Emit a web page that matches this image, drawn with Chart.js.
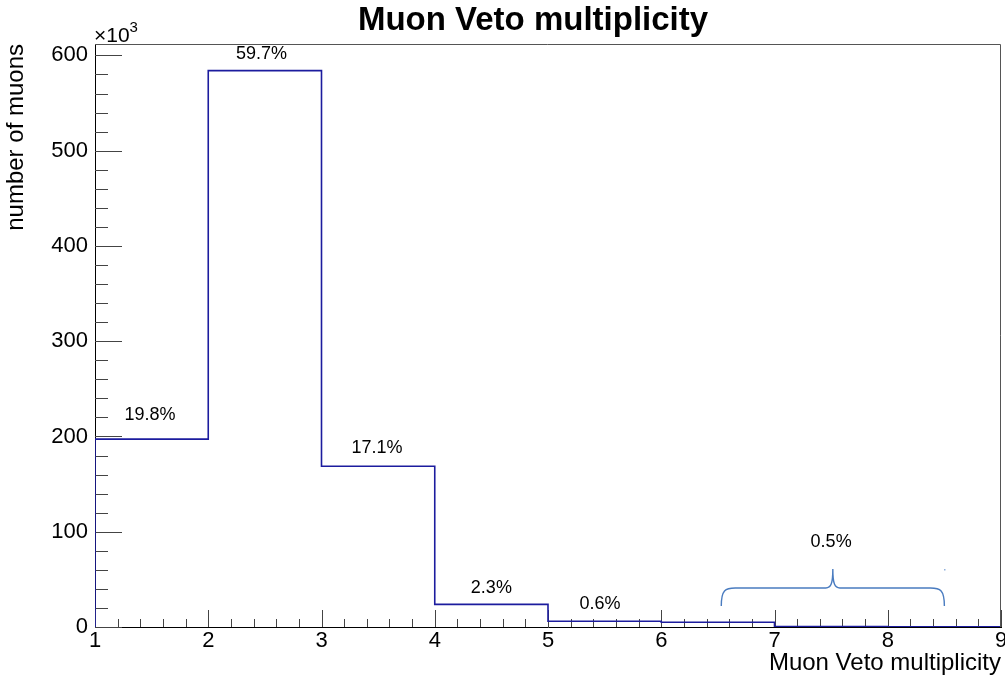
<!DOCTYPE html>
<html>
<head>
<meta charset="utf-8">
<title>Muon Veto multiplicity</title>
<script src="https://cdn.jsdelivr.net/npm/chart.js@4.4.1/dist/chart.umd.min.js"></script>
<style>
  html, body { margin: 0; padding: 0; background: #fff; }
  canvas { display: block; }
</style>
</head>
<body>
<canvas id="chart" width="1005" height="684"></canvas>
<script>
// bin edges on the x axis (multiplicity)
const binEdges = [1, 2, 3, 4, 5, 6, 7, 8, 9];
// number of muons per bin, in units of 10^3
const muonCounts = [197.2, 584.1, 168.8, 23.7, 6.1, 5.0, 0.5, 0.2];
// percentage labels written above the bins
const percentLabels = ['19.8%', '59.7%', '17.1%', '2.3%', '0.6%', '0.5%'];
const xTicks = [1, 2, 3, 4, 5, 6, 7, 8, 9];
const yTicks = [0, 100, 200, 300, 400, 500, 600];

// histogram outline as step points
const steps = [{ x: binEdges[0], y: 0 }];
muonCounts.forEach((v, i) => steps.push({ x: binEdges[i], y: v }));
steps.push({ x: binEdges[binEdges.length - 1], y: muonCounts[muonCounts.length - 1] });

const FONT = "'Liberation Sans', Arial, Helvetica, sans-serif";

// text + bracket annotations, placed in data coordinates
const labelAnchors = [
  [1.485, 222], [2.47, 601], [3.49, 188], [4.5, 41], [5.46, 24], [7.5, 89]
];

const rootStyle = {
  id: 'rootStyle',
  beforeDatasetsDraw(chart) {
    const { ctx, chartArea: a, scales: { x, y } } = chart;
    ctx.save();
    ctx.strokeStyle = '#444';
    ctx.lineWidth = 1;
    ctx.beginPath();
    // y ticks inside the frame
    for (let v = 0; v <= 612; v += 20) {
      const py = Math.round(y.getPixelForValue(v)) + 0.5;
      const len = v % 100 === 0 ? 27 : 13;
      ctx.moveTo(a.left, py);
      ctx.lineTo(a.left + len, py);
    }
    // x ticks inside the frame
    for (let k = 0; k <= 40; k++) {
      const v = 1 + k * 0.2;
      const px = Math.round(x.getPixelForValue(v)) + 0.5;
      const len = k % 5 === 0 ? 17 : 8;
      ctx.moveTo(px, a.bottom);
      ctx.lineTo(px, a.bottom - len);
    }
    ctx.stroke();
    ctx.restore();
  },
  afterDraw(chart) {
    const { ctx, chartArea: a, scales: { x, y } } = chart;
    ctx.save();
    // frame top / right
    ctx.strokeStyle = '#555';
    ctx.lineWidth = 1;
    ctx.beginPath();
    ctx.moveTo(a.left, a.top + 0.5);
    ctx.lineTo(a.right - 0.5, a.top + 0.5);
    ctx.lineTo(a.right - 0.5, a.bottom);
    ctx.stroke();

    // title
    ctx.fillStyle = '#000';
    ctx.textAlign = 'center';
    ctx.textBaseline = 'alphabetic';
    ctx.font = 'bold 33px ' + FONT;
    ctx.fillText('Muon Veto multiplicity', 533, 30);

    // exponent
    ctx.textAlign = 'left';
    ctx.font = '21px ' + FONT;
    ctx.fillText('\u00d710', 94, 42);
    const w = ctx.measureText('\u00d710').width;
    ctx.font = '15px ' + FONT;
    ctx.fillText('3', 94 + w, 32);

    // percentage labels
    ctx.textAlign = 'center';
    ctx.textBaseline = 'middle';
    ctx.font = '18px ' + FONT;
    percentLabels.forEach((t, i) => {
      const [dx, dy] = labelAnchors[i];
      ctx.fillText(t, x.getPixelForValue(dx), y.getPixelForValue(dy));
    });

    // curly bracket over the tail bins
    const x0 = x.getPixelForValue(6.53), x1 = x.getPixelForValue(8.5);
    const xm = x.getPixelForValue(7.515);
    const yE = y.getPixelForValue(22), yH = y.getPixelForValue(41), yP = y.getPixelForValue(61);
    ctx.strokeStyle = '#4a7cc0';
    ctx.lineWidth = 1.4;
    ctx.beginPath();
    ctx.moveTo(x0, yE);
    ctx.bezierCurveTo(x0, yH + 2, x0 + 4, yH, x0 + 14, yH);
    ctx.lineTo(xm - 7, yH);
    ctx.bezierCurveTo(xm - 2, yH, xm, yH - 4, xm, yP);
    ctx.bezierCurveTo(xm, yH - 4, xm + 2, yH, xm + 7, yH);
    ctx.lineTo(x1 - 14, yH);
    ctx.bezierCurveTo(x1 - 4, yH, x1, yH + 2, x1, yE);
    ctx.stroke();
    ctx.fillStyle = '#8fb0dc';
    ctx.fillRect(Math.round(x1), Math.round(yP), 1.5, 1.5);
    ctx.restore();
  }
};

new Chart(document.getElementById('chart'), {
  type: 'line',
  data: {
    datasets: [{
      data: steps,
      stepped: true,
      borderColor: '#1c1c9e',
      borderWidth: 1.6,
      pointRadius: 0,
      fill: false
    }]
  },
  options: {
    responsive: false,
    animation: false,
    devicePixelRatio: 1,
    layout: { padding: { left: 0, right: 4, top: 44, bottom: 0 } },
    plugins: { legend: { display: false }, tooltip: { enabled: false } },
    scales: {
      x: {
        type: 'linear',
        min: 1,
        max: 9,
        afterBuildTicks: s => { s.ticks = xTicks.map(v => ({ value: v })); },
        afterFit: s => { s.height = 57; s.paddingLeft = 0; s.paddingRight = 0; },
        grid: { display: false, drawTicks: false },
        border: { display: true, color: '#000', width: 1 },
        ticks: {
          autoSkip: false, maxRotation: 0, padding: 1, color: '#000',
          font: { family: FONT, size: 22 }
        },
        title: {
          display: true, text: 'Muon Veto multiplicity', align: 'end', color: '#000',
          font: { family: FONT, size: 24 }, padding: { top: 0, bottom: 6 }
        }
      },
      y: {
        type: 'linear',
        min: 0,
        max: 612,
        afterBuildTicks: s => { s.ticks = yTicks.map(v => ({ value: v })); },
        afterFit: s => { s.width = 95; s.paddingTop = 0; s.paddingBottom = 0; },
        grid: { display: false, drawTicks: false },
        border: { display: true, color: '#000', width: 1 },
        ticks: {
          autoSkip: false, padding: 7, color: '#000',
          font: { family: FONT, size: 22 }
        },
        title: {
          display: true, text: 'number of muons', align: 'end', color: '#000',
          font: { family: FONT, size: 24 }, padding: { top: 2, bottom: 0 }
        }
      }
    }
  },
  plugins: [rootStyle]
});
</script>
</body>
</html>
